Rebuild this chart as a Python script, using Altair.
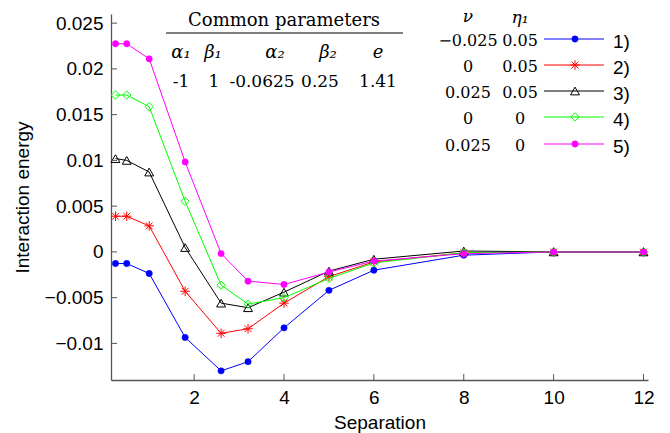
import altair as alt
import pandas as pd

# ---- data ----
sep = [0.25, 0.5, 1.0, 1.8, 2.6, 3.2, 4.0, 5.0, 6.0, 8.0, 10.0, 12.0]
e1 = [-0.00127, -0.00127, -0.00236, -0.00935, -0.0130, -0.0120, -0.0083, -0.0042, -0.0020, -0.00036, 0.0, 0.0]
e2 = [0.0039, 0.0039, 0.00284, -0.0043, -0.0089, -0.0084, -0.0056, -0.0027, -0.0011, -0.0001, 0.0, 0.0]
e3 = [0.0102, 0.0100, 0.00873, 0.00048, -0.0056, -0.0061, -0.0044, -0.0021, -0.0008, 0.0001, 0.0, 0.0]
e4 = [0.01714, 0.01714, 0.01587, 0.00553, -0.00364, -0.0057, -0.0050, -0.0029, -0.0012, -0.0001, 0.0, 0.0]
e5 = [0.02275, 0.02275, 0.0211, 0.00983, -0.00018, -0.0032, -0.00356, -0.0022, -0.0010, -0.0002, 0.0, 0.0]
series_vals = [e1, e2, e3, e4, e5]
series_labels = ["1)", "2)", "3)", "4)", "5)"]
nu_labels = ["\u22120.025", "0", "0.025", "0", "0.025"]
eta_labels = ["0.05", "0.05", "0.05", "0", "0"]
colors = ["#0000ff", "#ff0000", "#000000", "#00ff00", "#ff00ff"]
shapes = ["circle", "M-1,0L1,0M0,-1L0,1M-0.72,-0.72L0.72,0.72M-0.72,0.72L0.72,-0.72",
          "triangle-up", "diamond", "circle"]
filled = [True, False, False, False, True]
sizes = [40, 90, 80, 70, 40]

x_ticks = [2, 4, 6, 8, 10, 12]
y_ticks = [-0.01, -0.005, 0, 0.005, 0.01, 0.015, 0.02, 0.025]

param_headers = ["\u03b1\u2081", "\u03b2\u2081", "\u03b1\u2082", "\u03b2\u2082", "e"]
param_values = ["-1", "1", "-0.0625", "0.25", "1.41"]
header_x = [70, 102, 164, 217, 267]
value_x = [70, 103, 151, 209, 267]

W, H = 537, 366
AX = "#555555"
SANS = "Liberation Sans"
SERIF = "DejaVu Serif"

xs = alt.Scale(domain=[0.15, 12.1], nice=False, zero=False)
ys = alt.Scale(domain=[-0.014, 0.026], nice=False, zero=False)

rows = []
for i, vals in enumerate(series_vals):
    for xv, yv in zip(sep, vals):
        rows.append({"series": series_labels[i], "x": xv, "y": yv})
df = pd.DataFrame(rows)

xaxis = alt.Axis(values=x_ticks, ticks=False, grid=False, domainColor=AX, domainWidth=1.3,
                 labelFont=SANS, labelFontSize=19, labelColor="black", labelPadding=8,
                 titleFont=SANS, titleFontSize=19, titleFontWeight="normal", titleColor="black",
                 titlePadding=6)
yaxis = alt.Axis(values=y_ticks, ticks=False, grid=False, domainColor=AX, domainWidth=1.3,
                 format="~g", labelFont=SANS, labelFontSize=19, labelColor="black", labelPadding=8,
                 titleFont=SANS, titleFontSize=19, titleFontWeight="normal", titleColor="black",
                 titlePadding=12)


def X():
    return alt.X("x:Q", scale=xs, axis=xaxis, title="Separation")


def Y():
    return alt.Y("y:Q", scale=ys, axis=yaxis, title="Interaction energy")


layers = []
base = alt.Chart(df)
for i, lab in enumerate(series_labels):
    d = base.transform_filter(alt.datum.series == lab)
    line = d.mark_line(color=colors[i], strokeWidth=1).encode(x=X(), y=Y())
    if filled[i]:
        pt = d.mark_point(shape=shapes[i], filled=True, fill=colors[i], stroke=colors[i],
                          size=sizes[i], opacity=1, strokeWidth=0.5)
    else:
        pt = d.mark_point(shape=shapes[i], filled=False, stroke=colors[i], size=sizes[i],
                          opacity=1, strokeWidth=1)
    pt = pt.encode(x=X(), y=Y())
    layers += [line, pt]

# inward tick marks
xt_df = pd.DataFrame({"x": x_ticks})
yt_df = pd.DataFrame({"y": y_ticks})
xtick = alt.Chart(xt_df).mark_rule(color=AX, strokeWidth=1).encode(
    x=X(), y=alt.value(H), y2=alt.value(H - 6))
ytick = alt.Chart(yt_df).mark_rule(color=AX, strokeWidth=1).encode(
    y=Y(), x=alt.value(0), x2=alt.value(6))
layers += [xtick, ytick]

# legend (manual)
leg_y = [25, 51, 77, 103, 130]
one = pd.DataFrame({"k": [0]})
c = alt.Chart(one)
for i in range(5):
    layers.append(c.mark_rule(color=colors[i], strokeWidth=1).encode(
        x=alt.value(433), x2=alt.value(493), y=alt.value(leg_y[i])))
    if filled[i]:
        mk = c.mark_point(shape=shapes[i], filled=True, fill=colors[i], stroke=colors[i],
                          size=sizes[i], opacity=1, strokeWidth=0.5)
    else:
        mk = c.mark_point(shape=shapes[i], filled=False, stroke=colors[i], size=sizes[i],
                          opacity=1, strokeWidth=1)
    layers.append(mk.encode(x=alt.value(464), y=alt.value(leg_y[i])))
    layers.append(c.mark_text(text=series_labels[i], font=SANS, fontSize=19, align="left",
                              baseline="middle", color="black").encode(
        x=alt.value(502), y=alt.value(leg_y[i] + 3)))
    layers.append(c.mark_text(text=nu_labels[i], font=SERIF, fontSize=16, align="center",
                              baseline="middle", color="black").encode(
        x=alt.value(357), y=alt.value(leg_y[i] + 2)))
    layers.append(c.mark_text(text=eta_labels[i], font=SERIF, fontSize=16, align="center",
                              baseline="middle", color="black").encode(
        x=alt.value(409), y=alt.value(leg_y[i] + 2)))

layers.append(c.mark_text(text="\u03bd", font=SERIF, fontSize=17, fontStyle="italic",
                          align="center", baseline="middle").encode(x=alt.value(357), y=alt.value(3)))
layers.append(c.mark_text(text="\u03b7\u2081", font=SERIF, fontSize=17, fontStyle="italic",
                          align="center", baseline="middle").encode(x=alt.value(409), y=alt.value(4)))

# common parameters table
layers.append(c.mark_text(text="Common parameters", font=SERIF, fontSize=18,
                          align="center", baseline="middle").encode(x=alt.value(173), y=alt.value(7)))
layers.append(c.mark_rule(color="black", strokeWidth=1).encode(
    x=alt.value(55), x2=alt.value(292), y=alt.value(19)))
for j in range(5):
    layers.append(c.mark_text(text=param_headers[j], font=SERIF, fontSize=18, fontStyle="italic",
                              align="center", baseline="middle").encode(
        x=alt.value(header_x[j]), y=alt.value(39)))
    layers.append(c.mark_text(text=param_values[j], font=SERIF, fontSize=17,
                              align="center", baseline="middle").encode(
        x=alt.value(value_x[j]), y=alt.value(68)))

chart = alt.layer(*layers).properties(
    width=W, height=H,
    autosize=alt.AutoSizeParams(type="none"),
    padding={"left": 111, "top": 14, "right": 22, "bottom": 53},
).configure_view(stroke=None)

chart.save("out.html", embed_options={"renderer": "svg", "actions": False})
